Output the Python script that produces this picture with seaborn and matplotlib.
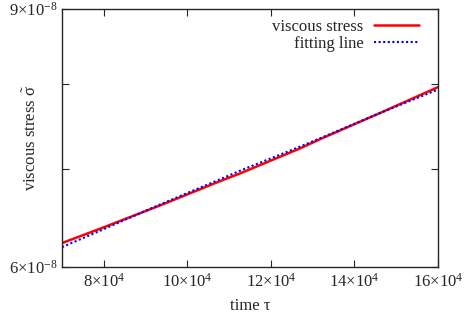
import numpy as np
import pandas as pd
import seaborn as sns
import matplotlib
matplotlib.use("Agg")
import matplotlib.pyplot as plt

# values (time in units of 1e4, stress in units of 1e-8)
time_vals = [7.0, 7.9, 9.35, 10.8, 11.26, 12.7, 13.2, 14.6, 16.0]
stress_vals = [6.23, 6.37, 6.61, 6.87, 6.95, 7.23, 7.34, 7.64, 7.96]
fit_vals = [6.19, 6.35, 6.62, 6.89, 6.98, 7.25, 7.35, 7.64, 7.93]

xticks = [8e4, 10e4, 12e4, 14e4, 16e4]
xticklabels = [r"8$\times$10$^{4}$", r"10$\times$10$^{4}$", r"12$\times$10$^{4}$",
               r"14$\times$10$^{4}$", r"16$\times$10$^{4}$"]
yticks = [6e-8, 7e-8, 8e-8, 9e-8]
yticklabels = [r"6$\times$10$^{-8}$", "", "", r"9$\times$10$^{-8}$"]

df = pd.DataFrame({
    "time": np.array(time_vals) * 1e4,
    "stress": np.array(stress_vals) * 1e-8,
    "fit": np.array(fit_vals) * 1e-8,
})

sns.set_style("ticks")
plt.rcParams["font.family"] = ["Liberation Serif", "DejaVu Serif"]
plt.rcParams["mathtext.fontset"] = "custom"
plt.rcParams["mathtext.rm"] = "Liberation Serif"
plt.rcParams["mathtext.it"] = "Liberation Serif"

fig = plt.figure(figsize=(4.71, 3.23), dpi=100)
ax = fig.add_axes([62/471, 56/323, 376/471, 258/323])

sns.lineplot(data=df, x="time", y="stress", ax=ax, color="#ff0000", lw=1.8,
             label="viscous stress")
sns.lineplot(data=df, x="time", y="fit", ax=ax, color="#0000ff", lw=1.5,
             linestyle=(0, (1, 1.2)), label="fitting line")

ax.set_yscale("log")
ax.set_xlim(7e4, 16e4)
ax.set_ylim(6e-8, 9e-8)
ax.set_xticks(xticks)
ax.set_xticklabels(xticklabels)
ax.yaxis.set_minor_locator(matplotlib.ticker.NullLocator())
ax.set_yticks(yticks)
ax.set_yticklabels(yticklabels)
ax.tick_params(direction="in", top=True, right=True, labelsize=12, length=5, width=0.8)
ax.tick_params(axis="x", pad=4)
ax.tick_params(axis="y", pad=3)
for s in ax.spines.values():
    s.set_linewidth(1.0)

ax.set_xlabel("time τ", fontsize=12)
ax.xaxis.set_label_coords(0.5, -0.12)
ax.set_ylabel(r"viscous stress $\tilde{\sigma}$", fontsize=12)
ax.yaxis.set_label_coords(-0.058, 0.5)

ax.legend(loc="upper right", frameon=False, markerfirst=False, fontsize=12,
          handlelength=2.7, handletextpad=0.6, borderaxespad=0.2, labelspacing=0.05,
          bbox_to_anchor=(0.975, 1.0))

fig.savefig("out.png", dpi=100)
